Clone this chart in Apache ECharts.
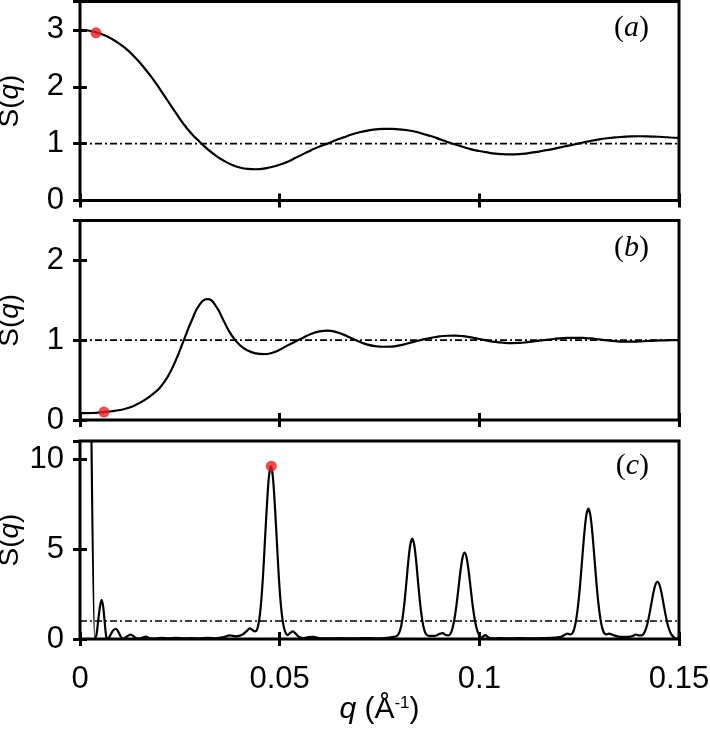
<!DOCTYPE html>
<html>
<head>
<meta charset="utf-8">
<script src="https://cdn.jsdelivr.net/npm/echarts@6/dist/echarts.min.js"></script>
<style>html,body{margin:0;padding:0;background:#fff}#c{width:710px;height:730px}</style>
</head>
<body>
<div id="c"></div>
<script>
// ---------- data ----------
var qA = [0,0.002,0.004,0.006,0.008,0.010,0.012,0.014,0.016,0.018,0.020,0.022,0.024,0.026,0.028,0.030,0.032,0.034,0.036,0.038,0.040,0.042,0.044,0.046,0.048,0.050,0.052,0.054,0.056,0.058,0.060,0.062,0.064,0.066,0.068,0.070,0.072,0.074,0.076,0.078,0.080,0.082,0.084,0.086,0.088,0.090,0.092,0.094,0.096,0.098,0.100,0.102,0.104,0.106,0.108,0.110,0.112,0.114,0.116,0.118,0.120,0.122,0.124,0.126,0.128,0.130,0.132,0.134,0.136,0.138,0.140,0.142,0.144,0.146,0.148,0.150];
var sA = [3.00,2.99,2.96,2.91,2.84,2.75,2.64,2.50,2.34,2.16,1.96,1.75,1.54,1.34,1.17,1.03,0.90,0.79,0.70,0.63,0.58,0.555,0.55,0.56,0.59,0.63,0.68,0.75,0.82,0.89,0.95,1.00,1.06,1.11,1.16,1.20,1.23,1.25,1.26,1.26,1.25,1.235,1.21,1.17,1.13,1.08,1.03,0.985,0.94,0.90,0.87,0.845,0.825,0.815,0.81,0.815,0.83,0.85,0.875,0.90,0.93,0.96,0.99,1.02,1.05,1.075,1.095,1.11,1.12,1.128,1.13,1.128,1.123,1.117,1.108,1.10];

var qB = [0,0.002,0.004,0.006,0.008,0.010,0.012,0.014,0.016,0.018,0.020,0.022,0.024,0.026,0.028,0.030,0.032,0.034,0.036,0.038,0.040,0.042,0.044,0.046,0.048,0.050,0.052,0.054,0.056,0.058,0.060,0.062,0.064,0.066,0.068,0.070,0.072,0.074,0.076,0.078,0.080,0.082,0.084,0.086,0.088,0.090,0.092,0.094,0.096,0.098,0.100,0.102,0.104,0.106,0.108,0.110,0.112,0.114,0.116,0.118,0.120,0.122,0.124,0.126,0.128,0.130,0.132,0.134,0.136,0.138,0.140,0.142,0.144,0.146,0.148,0.150];
var sB = [0.085,0.087,0.09,0.10,0.11,0.125,0.15,0.19,0.245,0.315,0.405,0.545,0.75,1.00,1.25,1.45,1.515,1.43,1.24,1.06,0.94,0.87,0.835,0.825,0.84,0.88,0.935,0.985,1.035,1.08,1.11,1.12,1.105,1.07,1.025,0.98,0.945,0.925,0.918,0.92,0.935,0.958,0.985,1.01,1.03,1.048,1.056,1.057,1.05,1.035,1.015,0.995,0.978,0.968,0.964,0.966,0.975,0.988,1.0,1.012,1.022,1.028,1.03,1.028,1.022,1.01,0.998,0.988,0.982,0.981,0.984,0.99,0.995,0.998,1.0,1.0];

var qC = [0.0025,0.0037,0.0041,0.0046,0.0050,0.0054,0.0058,0.0062,0.0066,0.0070,0.0078,0.0084,0.0090,0.0096,0.0103,0.0108,0.0118,0.0127,0.0136,0.0145,0.0155,0.0165,0.0175,0.0190,0.0205,0.0220,0.0240,0.0260,0.0280,0.0300,0.0320,0.0340,0.0360,0.0375,0.0390,0.0405,0.0418,0.0425,0.0432,0.0438,0.0443,0.0448,0.0453,0.0458,0.0463,0.0468,0.0473,0.0478,0.0483,0.0488,0.0493,0.0498,0.0503,0.0508,0.0513,0.0520,0.0527,0.0533,0.0540,0.0548,0.0560,0.0572,0.0585,0.0600,0.0620,0.0650,0.0680,0.0710,0.0740,0.0770,0.0785,0.0792,0.0797,0.0802,0.0807,0.0812,0.0817,0.0822,0.0827,0.0832,0.0837,0.0842,0.0847,0.0852,0.0857,0.0862,0.0867,0.0875,0.0890,0.0900,0.0908,0.0916,0.0923,0.0928,0.0933,0.0938,0.0943,0.0948,0.0953,0.0958,0.0963,0.0968,0.0973,0.0978,0.0983,0.0988,0.0993,0.0998,0.1005,0.1010,0.1015,0.1022,0.1030,0.1050,0.1070,0.1100,0.1130,0.1160,0.1190,0.1205,0.1215,0.1221,0.1228,0.1233,0.1238,0.1243,0.1248,0.1253,0.1258,0.1263,0.1268,0.1273,0.1278,0.1283,0.1288,0.1293,0.1298,0.1303,0.1308,0.1313,0.1319,0.1325,0.1335,0.1345,0.1360,0.1375,0.1385,0.1392,0.1400,0.1406,0.1411,0.1416,0.1421,0.1426,0.1431,0.1436,0.1441,0.1446,0.1451,0.1456,0.1461,0.1466,0.1471,0.1476,0.1481,0.1490,0.1500];
var sC = [20,0,0.2,1.1,1.8,2.17,1.8,0.9,0.1,0.02,0.3,0.5,0.57,0.4,0.1,0.02,0.15,0.24,0.12,0.02,0.06,0.13,0.05,0.02,0.07,0.03,0.06,0.03,0.05,0.03,0.06,0.04,0.1,0.2,0.15,0.22,0.45,0.59,0.5,0.42,0.5,0.95,1.9,3.4,5.4,7.4,9.0,9.6,9.0,7.4,5.4,3.4,1.9,0.95,0.45,0.22,0.35,0.42,0.3,0.12,0.05,0.1,0.12,0.04,0.03,0.05,0.03,0.05,0.04,0.07,0.12,0.15,0.25,0.51,1.05,1.92,3.06,4.28,5.22,5.58,5.22,4.28,3.06,1.92,1.05,0.51,0.25,0.17,0.18,0.28,0.33,0.22,0.2,0.3,0.61,1.15,1.92,2.87,3.82,4.53,4.8,4.53,3.82,2.87,1.92,1.15,0.61,0.29,0.08,0.15,0.22,0.1,0.03,0.05,0.03,0.05,0.03,0.05,0.08,0.12,0.25,0.3,0.25,0.32,0.59,1.15,2.01,3.19,4.57,5.9,6.88,7.24,6.88,5.9,4.57,3.19,2.01,1.15,0.59,0.32,0.26,0.3,0.22,0.15,0.12,0.12,0.18,0.25,0.2,0.2,0.28,0.49,0.86,1.38,1.99,2.58,3.02,3.18,3.02,2.58,1.99,1.38,0.86,0.49,0.25,0.05,0.02];

// highlighted points (red dots)
var dotA = [[0.004, 2.95]];
var dotB = [[0.006, 0.10]];
var dotC = [[0.0479, 9.6]];

// reference level S(q)=1
var refQ = [0, 0.15];
var refS = [1, 1];

// axis ranges / ticks
var xTicks = [0, 0.05, 0.1, 0.15];
var xTickLabels = ['0', '0.05', '0.1', '0.15'];
var yMaxes = [3.5, 2.5, 11];
var yIntervals = [1, 1, 5];
var panelTags = ['a', 'b', 'c'];

// ---------- layout ----------
var grids = [
  {left: 80, right: 31, top: 1.5, height: 199},
  {left: 80, right: 31, top: 220.5, height: 199.5},
  {left: 80, right: 31, top: 441, height: 198}
];
var tagTops = [13, 233, 451];

function pairs(xs, ys) { return xs.map(function (x, i) { return [x, ys[i]]; }); }

var FONT = 'Liberation Sans';
var tick = {inside: true, length: 7, lineStyle: {color: '#000', width: 3}};

var option = {animation: false, grid: [], xAxis: [], yAxis: [], series: [], title: []};

grids.forEach(function (g, p) {
  option.grid.push(Object.assign({show: true, borderColor: '#000', borderWidth: 3, backgroundColor: 'transparent',
    containLabel: false, outerBoundsMode: 'none'}, g));
  var isLast = p === 2;
  var xBase = {
    gridIndex: p, type: 'value', min: xTicks[0], max: xTicks[xTicks.length - 1],
    interval: xTicks[1] - xTicks[0],
    axisLine: {show: false}, axisTick: tick, splitLine: {show: false}
  };
  option.xAxis.push(Object.assign({}, xBase, {
    position: 'bottom',
    axisLabel: {
      show: isLast, fontSize: 31, color: '#000', fontFamily: FONT, margin: 25,
      formatter: function (v) {
        for (var i = 0; i < xTicks.length; i++) if (Math.abs(v - xTicks[i]) < 1e-9) return xTickLabels[i];
        return '';
      }
    },
    name: isLast ? '{i|q}{n| (Å}{s|-1}{n|)}' : '',
    nameLocation: 'middle', nameGap: 56, nameMoveOverlap: false,
    nameTextStyle: {
      color: '#000',
      rich: {
        i: {fontSize: 30, fontFamily: FONT, fontStyle: 'italic', color: '#000'},
        n: {fontSize: 30, fontFamily: FONT, color: '#000'},
        s: {fontSize: 17, fontFamily: FONT, color: '#000', verticalAlign: 'top', padding: [0, 0, 12, 0]}
      }
    }
  }));
  option.xAxis.push(Object.assign({}, xBase, {position: 'top', axisLabel: {show: false}}));

  var yBase = {
    gridIndex: p, type: 'value', min: 0, max: yMaxes[p], interval: yIntervals[p],
    axisLine: {show: false}, axisTick: tick, splitLine: {show: false}
  };
  option.yAxis.push(Object.assign({}, yBase, {
    position: 'left',
    axisLabel: {fontSize: 31, color: '#000', fontFamily: FONT, margin: 16, showMaxLabel: false},
    name: '{n|S(}{i|q}{n|)}', nameLocation: 'middle', nameGap: 56, nameMoveOverlap: false,
    nameTextStyle: {
      color: '#000',
      rich: {
        i: {fontSize: 28, fontFamily: FONT, fontStyle: 'italic', color: '#000'},
        n: {fontSize: 28, fontFamily: FONT, color: '#000'}
      }
    }
  }));
  option.yAxis.push(Object.assign({}, yBase, {position: 'right', axisLabel: {show: false}}));

  option.title.push({
    text: '{n|(}{i|' + panelTags[p] + '}{n|)}', right: 61, top: tagTops[p], padding: 0,
    textStyle: {
      fontWeight: 'normal',
      rich: {
        n: {fontSize: 30, fontFamily: 'Liberation Serif', fontWeight: 'normal', color: '#000'},
        i: {fontSize: 30, fontFamily: 'Liberation Serif', fontStyle: 'italic', fontWeight: 'normal', color: '#000'}
      }
    }
  });
});

var curves = [pairs(qA, sA), pairs(qB, sB), pairs(qC, sC)];
var dots = [dotA, dotB, dotC];
var smooths = [0.5, 0.5, 0.3];

for (var p = 0; p < 3; p++) {
  option.series.push({
    type: 'line', xAxisIndex: 2 * p, yAxisIndex: 2 * p, data: pairs(refQ, refS),
    symbol: 'none', silent: true, z: 2,
    lineStyle: {color: '#000', width: 1.7, type: [7, 3, 2, 3]}
  });
  option.series.push({
    type: 'line', xAxisIndex: 2 * p, yAxisIndex: 2 * p, data: curves[p],
    symbol: 'none', smooth: smooths[p], clip: true, z: 3,
    lineStyle: {color: '#000', width: 2.2}
  });
  option.series.push({
    type: 'scatter', xAxisIndex: 2 * p, yAxisIndex: 2 * p, data: dots[p],
    symbolSize: 11, z: 4, itemStyle: {color: '#f01c1c'}
  });
}

var chart = echarts.init(document.getElementById('c'), null, {renderer: 'canvas'});
chart.setOption(option);
</script>
</body>
</html>
